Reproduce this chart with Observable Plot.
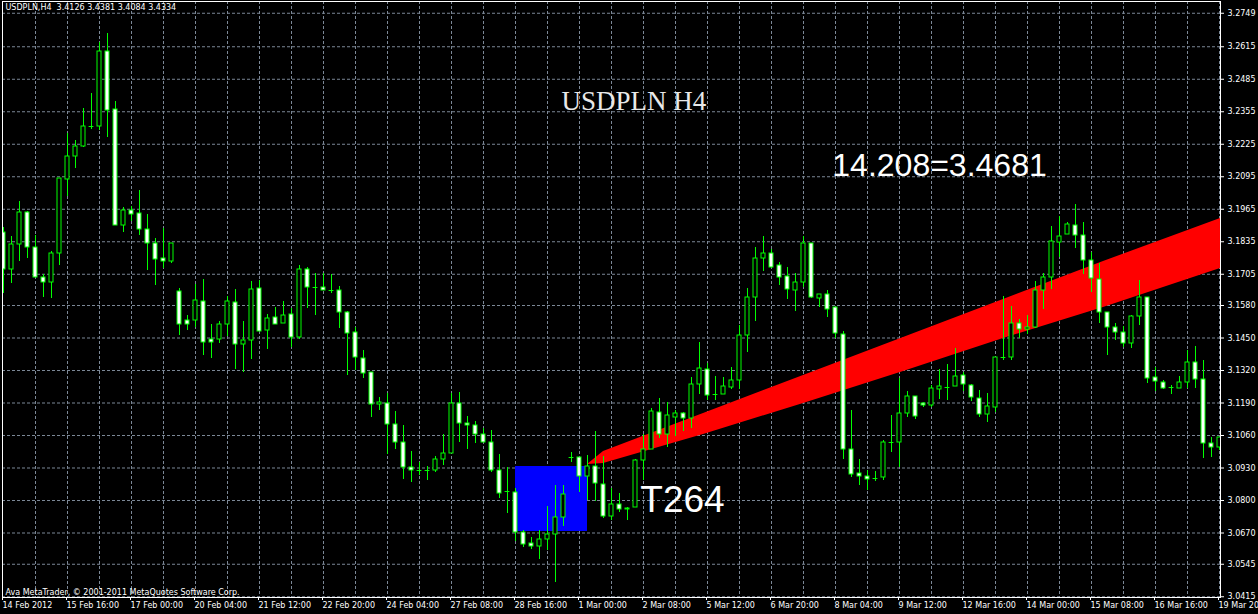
<!DOCTYPE html>
<html><head><meta charset="utf-8">
<script src="https://cdn.jsdelivr.net/npm/d3@7"></script>
<script src="https://cdn.jsdelivr.net/npm/@observablehq/plot@0.6"></script>
<style>html,body{margin:0;padding:0;background:#000;overflow:hidden;}#chart svg{display:block;}</style>
</head><body><div id="chart"></div>
<script>
const priceTicks = [3.2749, 3.2615, 3.2485, 3.2355, 3.2225, 3.2095, 3.1965, 3.1835, 3.1705, 3.1580, 3.1450, 3.1320, 3.1190, 3.1060, 3.0930, 3.0800, 3.0670, 3.0545, 3.0415];
const timeTicks = [0, 8, 16, 24, 32, 40, 48, 56, 64, 72, 80, 88, 96, 104, 112, 120, 128, 136, 144, 152];
const timeLabels = ["14 Feb 2012","15 Feb 16:00","17 Feb 00:00","20 Feb 04:00","21 Feb 12:00","22 Feb 20:00","24 Feb 04:00","27 Feb 08:00","28 Feb 16:00","1 Mar 00:00","2 Mar 08:00","5 Mar 12:00","6 Mar 20:00","8 Mar 04:00","9 Mar 12:00","12 Mar 16:00","14 Mar 00:00","15 Mar 08:00","16 Mar 16:00","19 Mar 2012"];

const open = [
3.1872,3.1724,3.1824,3.1952,3.1812,3.1692,3.1672,3.1788,3.2084,3.2176,
3.2216,3.2296,3.2296,3.2596,3.2364,3.1900,3.1960,3.1948,3.1884,3.1828,
3.1768,3.1756,3.1636,3.1520,3.1520,3.1596,3.1444,3.1444,3.1504,3.1592,
3.1424,3.1440,3.1648,3.1480,3.1532,3.1508,3.1544,3.1452,3.1724,3.1652,
3.1652,3.1640,3.1640,3.1552,3.1472,3.1368,3.1312,3.1184,3.1188,3.1104,
3.1032,3.0932,3.0920,3.0920,3.0920,3.0964,3.0988,3.1188,3.1108,3.1100,
3.1064,3.1032,3.0920,3.0836,3.0832,3.0672,3.0628,3.0616,3.0644,3.0664,
3.0732,3.0972,3.0972,3.0896,3.0936,3.0864,3.0736,3.0784,3.0768,3.0772,
3.0960,3.1004,3.1152,3.1064,3.1132,3.1148,3.1128,3.1264,3.1324,3.1224,
3.1224,3.1252,3.1280,3.1460,3.1612,3.1768,3.1788,3.1740,3.1696,3.1640,
3.1672,3.1828,3.1608,3.1624,3.1572,3.1464,3.1004,3.0908,3.0896,3.0888,
3.0892,3.1032,3.1032,3.1148,3.1216,3.1188,3.1180,3.1244,3.1252,3.1256,
3.1300,3.1260,3.1208,3.1144,3.1172,3.1372,3.1372,3.1508,3.1484,3.1492,
3.1640,3.1692,3.1832,3.1864,3.1900,3.1860,3.1760,3.1684,3.1552,3.1492,
3.1472,3.1428,3.1536,3.1612,3.1292,3.1272,3.1252,3.1248,3.1272,3.1352,
3.1284,3.1028,3.1012];
const high = [
3.1892,3.1856,3.1996,3.1956,3.1860,3.1704,3.1796,3.2088,3.2268,3.2240,
3.2368,3.2428,3.2632,3.2668,3.2396,3.1972,3.1976,3.2040,3.1944,3.1848,
3.1888,3.1828,3.1648,3.1540,3.1664,3.1684,3.1504,3.1516,3.1616,3.1644,
3.1516,3.1676,3.1680,3.1544,3.1572,3.1596,3.1568,3.1740,3.1732,3.1708,
3.1708,3.1704,3.1656,3.1556,3.1492,3.1400,3.1312,3.1212,3.1228,3.1156,
3.1100,3.0996,3.0952,3.0936,3.0976,3.1064,3.1228,3.1232,3.1136,3.1116,
3.1088,3.1080,3.0984,3.0932,3.0848,3.0680,3.0652,3.0680,3.0776,3.0860,
3.0860,3.0992,3.0972,3.0980,3.1076,3.0976,3.0848,3.0828,3.0772,3.0964,
3.1064,3.1168,3.1208,3.1192,3.1160,3.1152,3.1292,3.1432,3.1348,3.1296,
3.1292,3.1332,3.1500,3.1648,3.1812,3.1856,3.1804,3.1752,3.1732,3.1708,
3.1856,3.1828,3.1624,3.1640,3.1572,3.1476,3.1160,3.0964,3.0920,3.0916,
3.1040,3.1140,3.1288,3.1236,3.1216,3.1192,3.1260,3.1324,3.1344,3.1408,
3.1312,3.1264,3.1240,3.1228,3.1372,3.1616,3.1576,3.1524,3.1540,3.1676,
3.1708,3.1896,3.1936,3.1912,3.1984,3.1912,3.1792,3.1748,3.1552,3.1508,
3.1496,3.1540,3.1680,3.1612,3.1332,3.1280,3.1260,3.1296,3.1400,3.1416,
3.1360,3.1052,3.1052];
const low = [
3.1628,3.1668,3.1756,3.1768,3.1692,3.1612,3.1608,3.1740,3.2016,3.2128,
3.2212,3.2284,3.2280,3.2252,3.1900,3.1872,3.1916,3.1860,3.1720,3.1660,
3.1728,3.1748,3.1460,3.1480,3.1492,3.1380,3.1368,3.1428,3.1456,3.1324,
3.1312,3.1364,3.1476,3.1404,3.1504,3.1508,3.1412,3.1444,3.1568,3.1540,
3.1640,3.1628,3.1488,3.1300,3.1320,3.1288,3.1132,3.1160,3.0984,3.1004,
3.0884,3.0872,3.0900,3.0880,3.0912,3.0940,3.0988,3.1032,3.1004,3.1028,
3.1032,3.0912,3.0808,3.0748,3.0636,3.0612,3.0604,3.0564,3.0600,3.0472,
3.0696,3.0952,3.0832,3.0800,3.0796,3.0728,3.0720,3.0752,3.0720,3.0772,
3.0880,3.1004,3.1048,3.1012,3.1056,3.1076,3.1088,3.1224,3.1200,3.1200,
3.1224,3.1244,3.1244,3.1392,3.1516,3.1716,3.1728,3.1660,3.1604,3.1556,
3.1652,3.1608,3.1572,3.1532,3.1448,3.0964,3.0892,3.0860,3.0840,3.0876,
3.0880,3.0992,3.0932,3.1132,3.1124,3.1172,3.1172,3.1204,3.1200,3.1256,
3.1236,3.1196,3.1132,3.1112,3.1152,3.1360,3.1360,3.1448,3.1464,3.1488,
3.1564,3.1644,3.1772,3.1864,3.1808,3.1704,3.1632,3.1508,3.1380,3.1440,
3.1412,3.1408,3.1500,3.1268,3.1236,3.1244,3.1224,3.1248,3.1248,3.1248,
3.0968,3.0972,3.1000];
const close = [
3.1724,3.1824,3.1952,3.1812,3.1692,3.1672,3.1788,3.2088,3.2176,3.2216,
3.2296,3.2296,3.2596,3.2360,3.1900,3.1960,3.1944,3.1884,3.1828,3.1764,
3.1756,3.1828,3.1504,3.1504,3.1600,3.1432,3.1432,3.1504,3.1596,3.1424,
3.1440,3.1644,3.1476,3.1528,3.1504,3.1540,3.1452,3.1724,3.1652,3.1652,
3.1640,3.1640,3.1552,3.1468,3.1372,3.1308,3.1184,3.1192,3.1104,3.1032,
3.0932,3.0920,3.0920,3.0920,3.0964,3.0988,3.1188,3.1108,3.1100,3.1064,
3.1032,3.0920,3.0828,3.0836,3.0672,3.0624,3.0616,3.0644,3.0664,3.0732,
3.0824,3.0972,3.0896,3.0936,3.0868,3.0736,3.0784,3.0764,3.0764,3.0960,
3.1004,3.1156,3.1064,3.1140,3.1148,3.1128,3.1264,3.1328,3.1220,3.1224,
3.1256,3.1280,3.1460,3.1612,3.1768,3.1788,3.1732,3.1692,3.1644,3.1672,
3.1828,3.1612,3.1624,3.1564,3.1468,3.1004,3.0904,3.0896,3.0884,3.0888,
3.1032,3.1032,3.1148,3.1216,3.1136,3.1180,3.1248,3.1256,3.1252,3.1296,
3.1264,3.1212,3.1144,3.1176,3.1372,3.1372,3.1508,3.1484,3.1492,3.1640,
3.1692,3.1836,3.1856,3.1904,3.1860,3.1760,3.1688,3.1552,3.1492,3.1472,
3.1428,3.1536,3.1612,3.1288,3.1276,3.1248,3.1252,3.1272,3.1352,3.1284,
3.1028,3.1012,3.1052];

// blue box (bar index range, price range)
const boxBars = [64, 73];
const boxPrices = [3.0676, 3.0936];
// red channel: bar index, upper price, lower price
const bandK  = [73, 75, 87.5, 100, 112.5, 125, 137.5, 152.125];
const bandHi = [3.0944, 3.0996, 3.1148, 3.1300, 3.1452, 3.1604, 3.1756, 3.1928];
const bandLo = [3.0944, 3.0948, 3.1064, 3.1188, 3.1316, 3.1448, 3.1572, 3.1728];

const titleText = "USDPLN,H4  3.4126 3.4381 3.4084 3.4334";
const copyText = "Ava MetaTrader, \u00a9 2001-2011 MetaQuotes Software Corp.";
const centerLabel = [{t: "USDPLN H4", k: 78.8, p: 3.2364}];
const levelLabel = [{t: "14.208=3.4681", k: 103.6, p: 3.2098}];
const tLabel = [{t: "T264", k: 79.6, p: 3.0756}];

const bars = open.map((o, i) => ({i, o, h: high[i], l: low[i], c: close[i]}));
const band = bandK.map((k, j) => ({k, hi: bandHi[j], lo: bandLo[j]}));
const box = [{x1: boxBars[0], x2: boxBars[1], y1: boxPrices[0], y2: boxPrices[1]}];
const isDoji = d => Math.abs(d.o - d.c) < 0.0003;
const GREEN = "#00ff00";
const GRID = "#7b8796";
const gridX = d3.range(4, 153, 4);

const chart = Plot.plot({
  width: 1258, height: 614,
  marginLeft: 2, marginRight: 38, marginTop: 1, marginBottom: 17,
  style: {background: "#000", color: "#fff", fontFamily: "DejaVu Sans"},
  x: {type: "linear", domain: [-0.125, 152.125]},
  y: {type: "linear", domain: [3.0412, 3.2796]},
  marks: [
    Plot.gridY(priceTicks, {stroke: GRID, strokeOpacity: 1, strokeDasharray: "3,2"}),
    Plot.gridX(gridX, {stroke: GRID, strokeOpacity: 1, strokeDasharray: "3,2"}),
    Plot.rect(box, {x1: "x1", x2: "x2", y1: "y1", y2: "y2", fill: "#0000ff"}),
    Plot.areaY(band, {x: "k", y1: "lo", y2: "hi", fill: "#ff0000", curve: "linear", clip: true}),
    Plot.ruleX(bars, {x: "i", y1: "l", y2: "h", stroke: GREEN, clip: true}),
    Plot.rect(bars.filter(d => !isDoji(d) && d.c > d.o), {x1: d => d.i - 0.25, x2: d => d.i + 0.25, y1: "o", y2: "c", fill: "#000", stroke: GREEN, clip: true}),
    Plot.rect(bars.filter(d => !isDoji(d) && d.c <= d.o), {x1: d => d.i - 0.25, x2: d => d.i + 0.25, y1: "o", y2: "c", fill: "#fff", stroke: GREEN, clip: true}),
    Plot.ruleY(bars.filter(isDoji), {x1: d => d.i - 0.3, x2: d => d.i + 0.3, y: d => (d.o + d.c) / 2, stroke: GREEN, clip: true}),
    Plot.frame({stroke: "#fff"}),
    Plot.axisY(priceTicks, {anchor: "right", tickSize: 3, tickPadding: 4, tickFormat: d => d.toFixed(4), fontSize: 8, color: "#fff"}),
    Plot.axisX(timeTicks, {anchor: "bottom", tickSize: 3, tickPadding: 2, tickFormat: d => timeLabels[timeTicks.indexOf(d)], textAnchor: "start", dx: -1, fontSize: 8, color: "#fff"}),
    Plot.text([titleText], {frameAnchor: "top-left", dx: 3, dy: 3, lineAnchor: "top", textAnchor: "start", fill: "#fff", fontSize: 8}),
    Plot.text([copyText], {frameAnchor: "bottom-left", dx: 3, dy: -3, lineAnchor: "bottom", textAnchor: "start", fill: "#fff", fontSize: 8}),
    Plot.text(centerLabel, {x: "k", y: "p", text: "t", textAnchor: "middle", lineAnchor: "bottom", fill: "#e8e8e8", fontSize: 27, fontFamily: "Liberation Serif"}),
    Plot.text(levelLabel, {x: "k", y: "p", text: "t", textAnchor: "start", lineAnchor: "bottom", fill: "#fff", fontSize: 32, fontFamily: "Liberation Sans"}),
    Plot.text(tLabel, {x: "k", y: "p", text: "t", textAnchor: "start", lineAnchor: "bottom", fill: "#fff", fontSize: 37, fontFamily: "Liberation Sans"})
  ]
});
document.getElementById("chart").appendChild(chart);
</script>
</body></html>
